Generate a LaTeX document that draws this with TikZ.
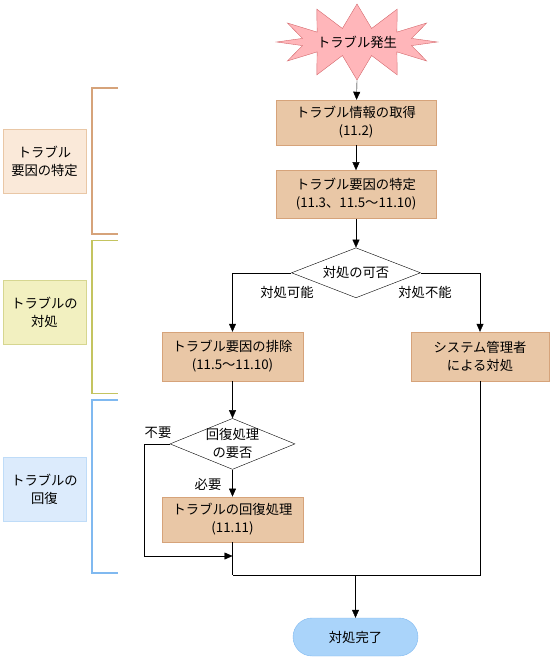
\documentclass[tikz,border=0pt]{standalone}
\usepackage{fontspec}
\setmainfont{Noto Sans CJK JP}
\usepackage{tikz}
\usetikzlibrary{arrows.meta,calc,positioning,shapes.geometric,shapes.symbols}
\definecolor{tanfill}{RGB}{233,199,166}
\definecolor{tanline}{RGB}{214,163,122}
\definecolor{tanpale}{RGB}{250,233,217}
\definecolor{olvfill}{RGB}{242,240,192}
\definecolor{olvline}{RGB}{196,196,96}
\definecolor{bluepale}{RGB}{220,235,252}
\definecolor{blueline}{RGB}{128,185,240}
\definecolor{bluefill}{RGB}{170,212,250}
\definecolor{pinkfill}{RGB}{255,182,186}
\definecolor{pinkline}{RGB}{212,104,108}
\tikzset{every picture/.style={
  >={Triangle[length=8pt,width=7pt]}   % filled arrow heads.
  }
}

\begin{document}
\begin{tikzpicture}[
    x=1pt, y=-1pt,
    font=\fontsize{13.3}{18}\selectfont,
    node distance=0pt,
    pr/.style={
      draw=tanline,
      fill=tanfill,
      minimum width=141pt,
      minimum height=49pt,
      align=center
    },
    dc/.style={
      diamond,
      draw,
      fill=white,
      inner sep=-4pt,
      align=center
    },
    lb/.style={
      minimum width=83pt,
      minimum height=64pt,
      align=center
    },
    tx/.style={inner sep=1pt}]

    \useasboundingbox (0,0) rectangle (553,660);

    % Helper macro for the phase brackets.
    \def\br#1#2#3{ \draw[#1,line width=1.6pt] (118,#2) -| (92,#3) -- (118,#3) }

    % Main flow.
    \node[starburst,starburst points=12,starburst point height=24pt,
      random starburst=0,draw=pinkline,fill=pinkfill,
      minimum width=138pt,minimum height=76pt,inner sep=0pt] (start)
      at (357,42) {トラブル発生};
    \node[pr,minimum width=160pt,minimum height=45pt] (info) at (356,122.5)
      {トラブル情報の取得\\(11.2)};
    \node[pr,minimum width=160pt,minimum height=48pt,below=25pt of info] (cause)
      {トラブル要因の特定\\(11.3、11.5〜11.10)};
    \node[dc,aspect=2.6,minimum width=129pt,minimum height=50pt,
      below=29pt of cause] (judge) {対処の可否};
    \node[pr] (remove) at (232.5,356.5) {トラブル要因の排除\\(11.5〜11.10)};
    \node[pr,minimum width=138pt] (admin) at (480,356.5)
      {システム管理者\\による対処};
    \node[dc,aspect=2.45,minimum width=125pt,minimum height=51pt,
      below=37pt of remove] (recjudge) {回復処理\\の要否};
    \node[pr,minimum height=45pt,below=27pt of recjudge] (rproc)
      {トラブルの回復処理\\(11.11)};
    \node[draw=blueline,fill=bluefill,rounded corners=19pt,minimum width=125pt,
      minimum height=38pt] (done) at (355.5,637) {対処完了};

    % Branch labels.
    \node[tx] (can) at (287,292) {対処可能};
    \node[tx] (cannot) at (425,292) {対処不能};
    \node[tx] (noneed) at (158,433) {不要};
    \node[tx] (need) at (208,484) {必要};

    % Connectors.
    \coordinate (back) at (232.5,556);
    \coordinate (merge) at (232.5,575);
    \draw[->] (start.south) -- (info);
    \draw[->] (info) -- (cause);
    \draw[->] (cause) -- (judge);
    \draw[->] (judge.west) -| (remove.north);
    \draw[->] (judge.east) -| (admin.north);
    \draw[->] (remove) -- (recjudge);
    \draw[->] (recjudge) -- (rproc);
    \draw[->] (recjudge.west) -- ++(-26,0) |- (back);
    \draw (rproc.south) -- (merge);
    \draw (admin.south) |- (merge);
    \draw[->] (merge -| done.north) -- (done.north);

    % Phase brackets and labels.
    \br{tanline}{88}{234};
    \br{olvline}{240.5}{393.5};
    \br{blueline}{400}{573};
    \node[lb,draw=tanfill,fill=tanpale] (ph1) at (44.5,161) {トラブル\\要因の特定};
    \node[lb,draw=olvline!70,fill=olvfill] (ph2) at (44.5,312) {トラブルの\\対処};
    \node[lb,draw=blueline!50,fill=bluepale] (ph3) at (44.5,489) {トラブルの\\回復};

  \end{tikzpicture}
\end{document}
